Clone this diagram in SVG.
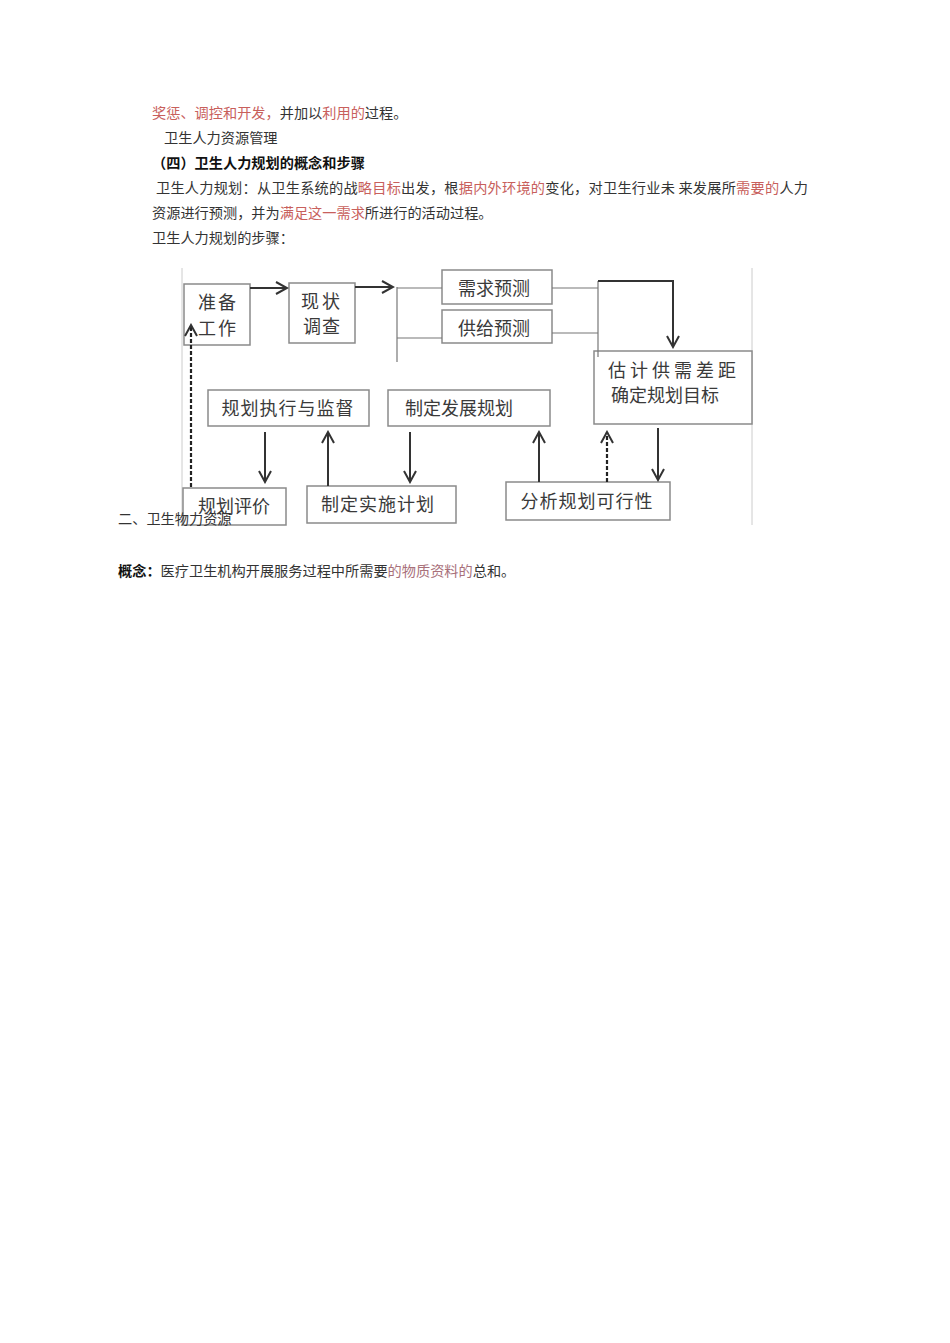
<svg xmlns="http://www.w3.org/2000/svg" width="950" height="1343" viewBox="0 0 950 1343">
<style>
.t{font-family:"Noto Sans CJK SC","Noto Sans CJK JP",sans-serif;font-size:14.2px;fill:#333}
.r{fill:#c8605c}
.m{fill:#a8707a}
.b{font-weight:bold;fill:#111}
.box{fill:#fff;stroke:#8a8a8a;stroke-width:1.5}
.bt{font-family:"Noto Sans CJK SC","Noto Sans CJK JP",sans-serif;font-size:18px;fill:#3a3a3a;text-anchor:middle}
.ar{stroke:#333;stroke-width:2;fill:none}
.th{stroke:#777;stroke-width:1.2;fill:none}
.ds{stroke:#222;stroke-width:2.2;fill:none;stroke-dasharray:4 2}
</style>
<defs>
<marker id="a" markerUnits="userSpaceOnUse" markerWidth="14" markerHeight="14" viewBox="0 0 14 14" refX="12" refY="7" orient="auto">
<path d="M1,1 L12,7 L1,13" fill="none" stroke="#333" stroke-width="2"/>
</marker>
</defs>
<rect width="950" height="1343" fill="#fff"/>
<text class="t" x="152" y="118"><tspan class="r">奖惩、调控和开发，</tspan>并加以<tspan class="r">利用的</tspan>过程。</text>
<text class="t" x="164" y="143">卫生人力资源管理</text>
<text class="t b" x="152" y="168">（四）卫生人力规划的概念和步骤</text>
<text class="t" x="156" y="193" textLength="652" lengthAdjust="spacing">卫生人力规划：从卫生系统的战<tspan class="r">略目标</tspan>出发，根<tspan class="r">据内外环境的</tspan>变化，对卫生行业未 来发展所<tspan class="r">需要的</tspan>人力</text>
<text class="t" x="152" y="218">资源进行预测，并为<tspan class="r">满足这一需求</tspan>所进行的活动过程。</text>
<text class="t" x="152" y="243">卫生人力规划的步骤：</text>
<g id="frame">
<line x1="182" y1="268" x2="182" y2="525" stroke="#ccc" stroke-width="1"/>
<line x1="752" y1="268" x2="752" y2="525" stroke="#ccc" stroke-width="1"/>
</g>
<g id="n1"><rect class="box" x="184" y="284" width="66" height="61"/><text class="bt" x="218" y="309" letter-spacing="2">准备</text><text class="bt" x="218" y="335" letter-spacing="2">工作</text></g>
<g id="n2"><rect class="box" x="289" y="283" width="66" height="60"/><text class="bt" x="322" y="308" letter-spacing="3">现状</text><text class="bt" x="322" y="333" letter-spacing="1">调查</text></g>
<g id="n3"><rect class="box" x="442" y="270" width="110" height="34"/><text class="bt" x="494" y="295">需求预测</text></g>
<g id="n4"><rect class="box" x="442" y="310" width="110" height="33"/><text class="bt" x="494" y="335">供给预测</text></g>
<g id="n5"><rect class="box" x="594" y="351" width="158" height="73"/><text class="bt" x="674" y="377" letter-spacing="4">估计供需差距</text><text class="bt" x="665" y="402">确定规划目标</text></g>
<g id="n6"><rect class="box" x="208" y="390" width="161" height="36"/><text class="bt" x="288" y="415" letter-spacing="1">规划执行与监督</text></g>
<g id="n7"><rect class="box" x="388" y="390" width="162" height="36"/><text class="bt" x="459" y="415">制定发展规划</text></g>
<g id="n8"><rect class="box" x="183" y="488" width="103" height="37"/><text class="bt" x="234" y="513">规划评价</text></g>
<g id="n9"><rect class="box" x="307" y="486" width="149" height="37"/><text class="bt" x="378" y="511" letter-spacing="1">制定实施计划</text></g>
<g id="n10"><rect class="box" x="506" y="482" width="164" height="38"/><text class="bt" x="587" y="508" letter-spacing="1">分析规划可行性</text></g>
<g id="connectors">
<line class="ar" x1="250" y1="288" x2="287" y2="288" marker-end="url(#a)"/>
<line class="ar" x1="355" y1="287" x2="393" y2="287" marker-end="url(#a)"/>
<line class="th" x1="397" y1="287" x2="397" y2="362"/>
<line class="th" x1="397" y1="288" x2="442" y2="288"/>
<line class="th" x1="397" y1="338" x2="442" y2="338"/>
<line class="th" x1="552" y1="288" x2="598" y2="288"/>
<line class="th" x1="552" y1="333" x2="598" y2="333"/>
<line class="th" x1="598" y1="281" x2="598" y2="357"/>
<polyline class="ar" points="598,281 673,281 673,347" stroke-width="1.6" marker-end="url(#a)"/>
<line class="ar" x1="658" y1="428" x2="658" y2="480" marker-end="url(#a)"/>
<line class="ar" x1="539" y1="482" x2="539" y2="432" marker-end="url(#a)"/>
<line class="ds" x1="607" y1="482" x2="607" y2="432" marker-end="url(#a)"/>
<line class="ar" x1="265" y1="432" x2="265" y2="482" marker-end="url(#a)"/>
<line class="ar" x1="328" y1="486" x2="328" y2="432" marker-end="url(#a)"/>
<line class="ar" x1="410" y1="432" x2="410" y2="482" marker-end="url(#a)"/>
<line class="ds" x1="191" y1="487" x2="191" y2="325" marker-end="url(#a)"/>
</g>
<text class="t" x="118" y="524">二、卫生物力资源</text>
<text class="t" x="118" y="576"><tspan class="b">概念：</tspan>医疗卫生机构开展服务过程中所需要<tspan class="m">的物质资料的</tspan>总和。</text>
</svg>
